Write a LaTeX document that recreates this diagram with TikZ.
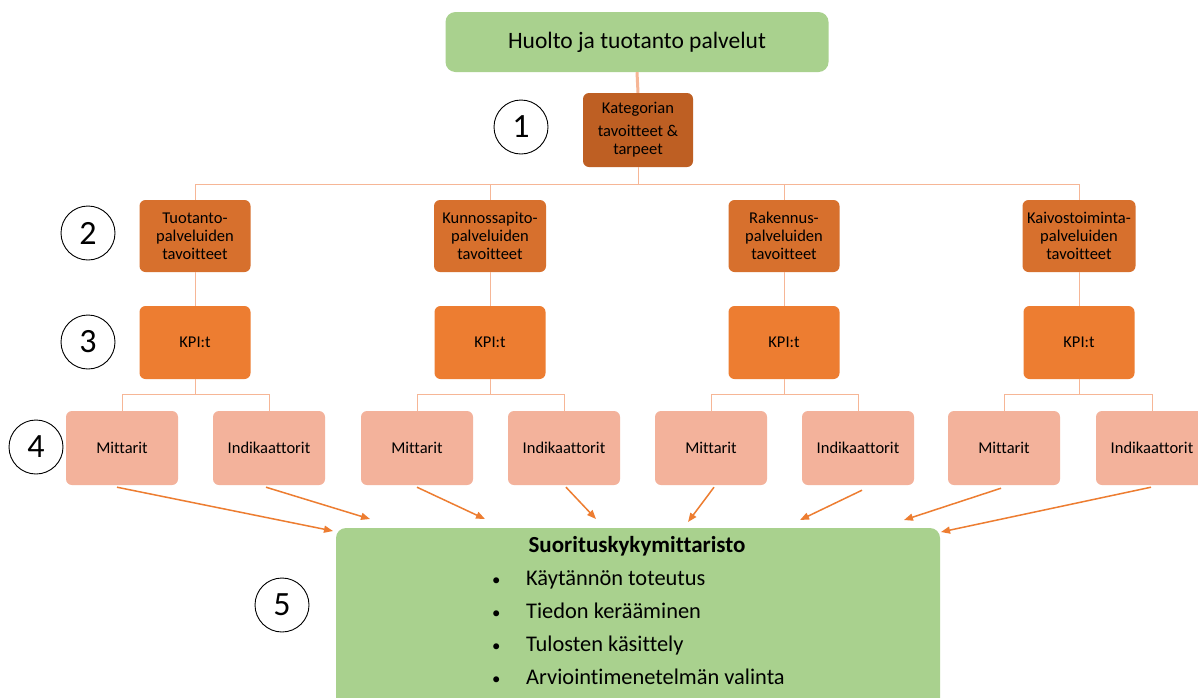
\documentclass[tikz,border=0pt]{standalone}
\usepackage{fontspec}
\setmainfont{Carlito}[Ligatures=NoCommon]
\usetikzlibrary{arrows.meta}
\definecolor{boxgreen}{RGB}{169,209,142}
\definecolor{katcol}{RGB}{190,95,35}
\definecolor{lvltwo}{RGB}{215,112,45}
\definecolor{kpicol}{RGB}{237,125,49}
\definecolor{lvlfour}{RGB}{243,178,155}
\definecolor{conncol}{RGB}{246,182,150}
\definecolor{arrcol}{RGB}{237,125,49}
\begin{document}
\begin{tikzpicture}[x=1pt,y=-1pt,
  gbox/.style={fill=boxgreen,rounded corners=10pt,draw=none},
  sbox/.style={rounded corners=6pt,draw=none,minimum width=111pt,inner sep=0pt,align=center,
    font=\fontsize{16.5}{18}\selectfont,text=black},
  numc/.style={circle,draw=black,line width=0.9pt,minimum size=54pt,inner sep=0pt,
    font=\fontsize{34}{34}\selectfont},
  conn/.style={draw=conncol,line width=1pt},
  arr/.style={draw=arrcol,line width=1.5pt,-{Triangle[length=9pt,width=7pt]}}]
\useasboundingbox (0,0) rectangle (1198,697);
\fill[white] (0,0) rectangle (1198,697);

% top
\node[gbox,minimum width=383pt,minimum height=60pt,font=\fontsize{23.5}{26}\selectfont] (top) at (637,42) {Huolto ja tuotanto palvelut};
\node[sbox,fill=katcol,minimum width=110pt,minimum height=74pt] (kat) at (638,130)
  {Kategorian\\[5pt]tavoitteet \&\\tarpeet};
\draw[conn,line width=3pt] (top.south) -- (kat.north);

% level 2
\node[sbox,fill=lvltwo,minimum height=72pt] (t1) at (195,236) {Tuotanto-\\palveluiden\\tavoitteet};
\node[sbox,fill=lvltwo,minimum height=72pt,minimum width=112pt] (t2) at (490,236) {Kunnossapito-\\palveluiden\\tavoitteet};
\node[sbox,fill=lvltwo,minimum height=72pt] (t3) at (784,236) {Rakennus-\\palveluiden\\tavoitteet};
\node[sbox,fill=lvltwo,minimum height=72pt,minimum width=113pt] (t4) at (1079,236) {Kaivostoiminta-\\palveluiden\\tavoitteet};

\coordinate (hb) at (0,184);
\foreach \t in {t1,t2,t3,t4}{\draw[conn] (kat.south) -- (kat.south |- hb) -| (\t.north);}

% level 3
\foreach \t/\k/\x in {t1/k1/195,t2/k2/490,t3/k3/784,t4/k4/1079}{
  \node[sbox,fill=kpicol,minimum height=73pt] (\k) at (\x,342.5) {KPI:t};
  \draw[conn] (\t.south) -- (\k.north);
}

% level 4
\coordinate (hc) at (0,394);
\foreach \k/\m/\i/\xm/\xi in {k1/m1/i1/122/269,k2/m2/i2/417/564,k3/m3/i3/711/858,k4/m4/i4/1004/1152}{
  \node[sbox,fill=lvlfour,minimum height=74pt,minimum width=112pt] (\m) at (\xm,448) {Mittarit};
  \node[sbox,fill=lvlfour,minimum height=74pt,minimum width=112pt] (\i) at (\xi,448) {Indikaattorit};
  \draw[conn] (\k.south) -- (\k.south |- hc) -| (\m.north);
  \draw[conn] (\k.south |- hc) -| (\i.north);
}

% bottom box
\path[gbox] (336,528) rectangle (940,712);
\node[font=\bfseries\fontsize{23}{26}\selectfont,inner sep=0pt] (title) at (637,546) {Suorituskykymittaristo};
\node[anchor=north west,inner sep=0pt,font=\fontsize{22.4}{33}\selectfont] (list) at (492,562)
  {\begin{tabular}{@{}l@{}l@{}}
   \makebox[34pt][l]{\scalebox{0.75}{\textbullet}} & Käytännön toteutus\\
   \makebox[34pt][l]{\scalebox{0.75}{\textbullet}} & Tiedon kerääminen\\
   \makebox[34pt][l]{\scalebox{0.75}{\textbullet}} & Tulosten käsittely\\
   \makebox[34pt][l]{\scalebox{0.75}{\textbullet}} & Arviointimenetelmän valinta
   \end{tabular}};

% arrows
\coordinate (e1) at (333,531);
\coordinate (e2) at (370,519);
\coordinate (e3) at (485,519);
\coordinate (e4) at (596,519);
\coordinate (e5) at (688,522);
\coordinate (e6) at (800,520);
\coordinate (e7) at (904,520);
\coordinate (e8) at (941,532);
\draw[arr] ([xshift=-5pt,yshift=-2pt]m1.south) -- (e1);
\draw[arr] ([xshift=-3pt,yshift=-2pt]i1.south) -- (e2);
\draw[arr] ([xshift=0pt,yshift=-2pt]m2.south) -- (e3);
\draw[arr] ([xshift=2pt,yshift=-2pt]i2.south) -- (e4);
\draw[arr] ([xshift=3pt,yshift=-2pt]m3.south) -- (e5);
\draw[arr] ([xshift=4pt,yshift=-5pt]i3.south) -- (e6);
\draw[arr] ([xshift=-3pt,yshift=-3pt]m4.south) -- (e7);
\draw[arr] ([xshift=-1pt,yshift=-2pt]i4.south) -- (e8);

% numbers
\node[numc] (n1) at (521,127) {1};
\node[numc] (n2) at (88,233) {2};
\node[numc] (n3) at (88,342) {3};
\node[numc] (n4) at (36,447) {4};
\node[numc] (n5) at (282,605) {5};
\end{tikzpicture}
\end{document}
